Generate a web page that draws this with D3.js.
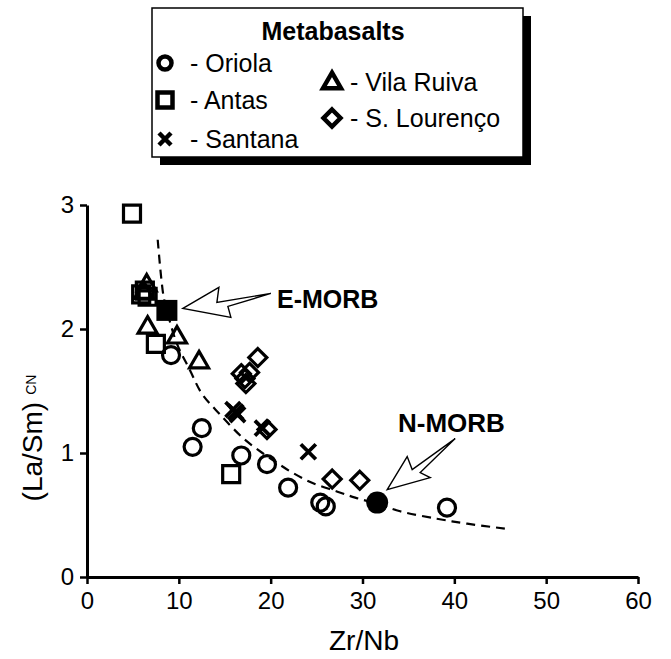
<!DOCTYPE html>
<html>
<head>
<meta charset="utf-8">
<script src="https://cdn.jsdelivr.net/npm/d3@7"></script>
<style>
  body { margin: 0; background: #fff; }
  svg text { font-family: "Liberation Sans", Arial, Helvetica, sans-serif; fill: #000; }
</style>
</head>
<body>
<svg id="chart" width="671" height="659"></svg>
<script>
// Axis ticks
const xTicks = [0, 10, 20, 30, 40, 50, 60];
const yTicks = [0, 1, 2, 3];

// Samples: [Zr/Nb, (La/Sm)CN]
const oriola = [[9.15, 1.79], [12.5, 1.20], [11.5, 1.05], [16.8, 0.98], [19.6, 0.91],
                [21.9, 0.72], [25.4, 0.60], [26.0, 0.57], [39.2, 0.56]];
const antas = [[4.9, 2.93], [5.9, 2.28], [6.3, 2.31], [6.6, 2.26], [7.5, 1.88], [15.7, 0.83]];
const santana = [[15.9, 1.35], [16.2, 1.33], [16.4, 1.31], [19.1, 1.20], [24.1, 1.01]];
const vilaRuiva = [[6.5, 2.36], [6.2, 2.30], [6.6, 2.02], [9.8, 1.94], [12.2, 1.74]];
const sLourenco = [[18.6, 1.77], [17.7, 1.65], [16.8, 1.64], [17.2, 1.60], [17.3, 1.56],
                   [19.6, 1.19], [26.7, 0.79], [29.7, 0.78]];

// Reference compositions
const eMorb = [8.7, 2.15];
const nMorb = [31.6, 0.60];

// Mixing trend (dashed)
const mixingCurve = [[7.7, 2.72], [8.3, 2.28], [8.7, 2.15], [9.8, 1.88], [11.2, 1.67],
                     [12.5, 1.48], [14.5, 1.31], [17.0, 1.12], [19.1, 1.00], [20.7, 0.92],
                     [22.4, 0.84], [24.5, 0.76], [27.2, 0.69], [29.2, 0.64], [31.6, 0.59],
                     [34.1, 0.53], [38.1, 0.47], [41.4, 0.43], [45.5, 0.39]];

const svg = d3.select("#chart");

const x = d3.scaleLinear().domain([0, 60]).range([87, 638]);
const y = d3.scaleLinear().domain([0, 3]).range([577, 205]);

// ---- marker shapes ----
const shapes = {
  circle: s => { const r = s / 2; return `M${r},0A${r},${r} 0 1,1 ${-r},0A${r},${r} 0 1,1 ${r},0Z`; },
  square: s => { const h = s / 2; return `M${-h},${-h}H${h}V${h}H${-h}Z`; },
  triangle: s => { const hh = s * Math.sqrt(3) / 2; return `M0,${-hh * 0.6}L${s / 2},${hh * 0.4}L${-s / 2},${hh * 0.4}Z`; },
  diamond: s => { const h = s / 2; return `M0,${-h}L${h},0L0,${h}L${-h},0Z`; },
  cross: s => { const h = s / 2; return `M${-h},${-h}L${h},${h}M${h},${-h}L${-h},${h}`; }
};

// ---- dashed mixing curve ----
svg.append("path")
  .datum(mixingCurve)
  .attr("fill", "none")
  .attr("stroke", "#000")
  .attr("stroke-width", 2.2)
  .attr("stroke-dasharray", "9,6")
  .attr("d", d3.line().x(d => x(d[0])).y(d => y(d[1])).curve(d3.curveCatmullRom));

// ---- axes ----
const xAxis = svg.append("g")
  .attr("transform", `translate(0,${y(0)})`)
  .call(d3.axisBottom(x).tickValues(xTicks).tickFormat(d3.format("d"))
        .tickSize(7).tickPadding(8).tickSizeOuter(0));
const yAxis = svg.append("g")
  .attr("transform", `translate(${x(0)},0)`)
  .call(d3.axisLeft(y).tickValues(yTicks).tickFormat(d3.format("d"))
        .tickSize(7).tickPadding(6).tickSizeOuter(0));
[xAxis, yAxis].forEach(g => {
  g.select(".domain").attr("stroke", "#000").attr("stroke-width", 3);
  g.selectAll(".tick line").attr("stroke", "#000").attr("stroke-width", 2.5);
  g.selectAll(".tick text").attr("font-size", 24).attr("font-family", "Liberation Sans, Arial, sans-serif");
});

// axis titles
svg.append("text")
  .attr("x", 364).attr("y", 650)
  .attr("text-anchor", "middle").attr("font-size", 28)
  .text("Zr/Nb");

const yTitle = svg.append("text")
  .attr("transform", "translate(42,438) rotate(-90)")
  .attr("text-anchor", "middle").attr("font-size", 28);
yTitle.append("tspan").text("(La/Sm)");
yTitle.append("tspan").attr("font-size", 14).attr("dx", 7).attr("dy", -6).text("CN");

// ---- data markers ----
function drawSeries(data, shape, size, sw) {
  svg.append("g").selectAll("path")
    .data(data).join("path")
    .attr("transform", d => `translate(${x(d[0])},${y(d[1])})`)
    .attr("d", shapes[shape](size))
    .attr("fill", "none")
    .attr("stroke", "#000")
    .attr("stroke-width", sw);
}
drawSeries(oriola, "circle", 17, 3.2);
drawSeries(antas, "square", 17, 3.2);
drawSeries(vilaRuiva, "triangle", 19, 3.2);
drawSeries(sLourenco, "diamond", 18, 3.2);
drawSeries(santana, "cross", 15, 3.8);

// reference compositions (filled)
svg.append("path")
  .attr("transform", `translate(${x(eMorb[0])},${y(eMorb[1])})`)
  .attr("d", shapes.square(21)).attr("fill", "#000");
svg.append("path")
  .attr("transform", `translate(${x(nMorb[0])},${y(nMorb[1])})`)
  .attr("d", shapes.circle(22)).attr("fill", "#000");

// ---- lightning-style callout arrows ----
function arrow(pt, pts) {
  const cx = x(pt[0]), cy = y(pt[1]);
  svg.append("path")
    .attr("d", "M" + pts.map(p => `${cx + p[0]},${cy + p[1]}`).join("L") + "Z")
    .attr("fill", "#fff").attr("stroke", "#000").attr("stroke-width", 1.4)
    .attr("stroke-linejoin", "miter");
}
arrow(eMorb, [[16, -2], [52, -23], [50, -8], [104, -17], [61, -4], [64, 7]]);
arrow(nMorb, [[10, -13], [30, -46], [35, -33], [78, -64], [43, -30], [53, -25]]);

svg.append("text").attr("x", 277).attr("y", 308)
  .attr("font-size", 25).attr("font-weight", "bold").text("E-MORB");
svg.append("text").attr("x", 398).attr("y", 432)
  .attr("font-size", 26).attr("font-weight", "bold").text("N-MORB");

// ---- legend ----
const legend = svg.append("g");
legend.append("rect").attr("x", 160).attr("y", 16).attr("width", 371).attr("height", 149).attr("fill", "#000");
legend.append("rect").attr("x", 152).attr("y", 8).attr("width", 371).attr("height", 149)
  .attr("fill", "#fff").attr("stroke", "#000").attr("stroke-width", 1.5);
legend.append("text").attr("x", 333).attr("y", 40).attr("text-anchor", "middle")
  .attr("font-size", 25).attr("font-weight", "bold").text("Metabasalts");

const legendItems = [
  { shape: "circle", size: 13, label: "- Oriola", mx: 165, my: 63, dx: 25 },
  { shape: "square", size: 15, label: "- Antas", mx: 165, my: 100, dx: 25 },
  { shape: "cross", size: 12, label: "- Santana", mx: 165, my: 139, dx: 25 },
  { shape: "triangle", size: 18, label: "- Vila Ruiva", mx: 332, my: 82, dx: 18 },
  { shape: "diamond", size: 17, label: "- S. Lourenço", mx: 332, my: 118, dx: 18 }
];
const li = legend.selectAll("g.item").data(legendItems).join("g").attr("class", "item");
li.append("path")
  .attr("transform", d => `translate(${d.mx},${d.my})`)
  .attr("d", d => shapes[d.shape](d.size))
  .attr("fill", "none").attr("stroke", "#000").attr("stroke-width", 4.5);
li.append("text")
  .attr("x", d => d.mx + d.dx).attr("y", d => d.my + 9)
  .attr("font-size", 25).text(d => d.label);
</script>
</body>
</html>
